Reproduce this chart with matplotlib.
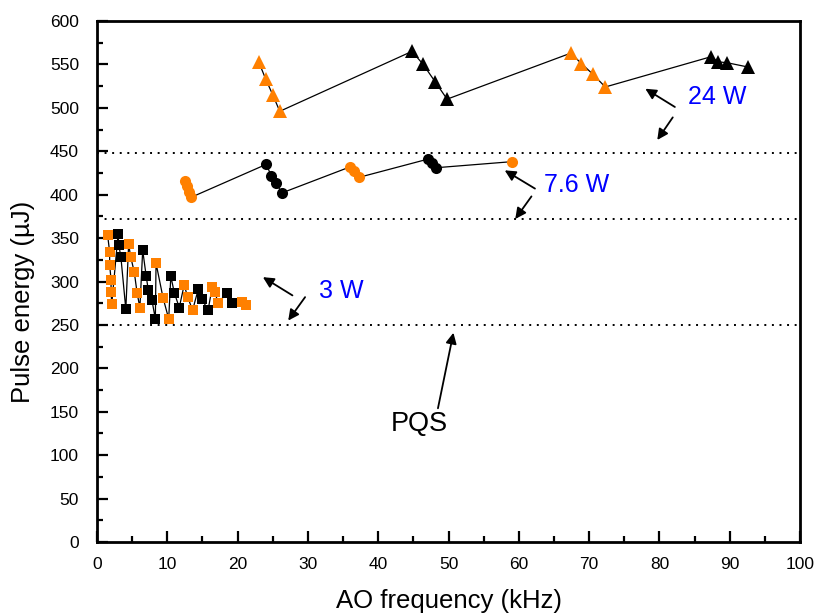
import matplotlib
matplotlib.use("Agg")
import matplotlib.pyplot as plt

FONT = "Liberation Sans"
ORANGE = "#FF8000"

# 3 W pump: alternating orange / black runs of squares
p3_freq = [[1.5, 1.8, 1.8, 2.0, 2.0, 2.1],
           [3.0, 3.1, 3.4, 4.1],
           [4.5, 4.8, 5.3, 5.7, 6.1],
           [6.5, 7.0, 7.3, 7.8, 8.3],
           [8.4, 9.4, 10.2],
           [10.5, 11.0, 11.7],
           [12.4, 12.9, 13.6],
           [14.4, 14.9, 15.8],
           [16.4, 16.8, 17.2],
           [18.5, 19.2],
           [20.6, 21.2]]
p3_energy = [[354, 334, 319, 302, 288, 274],
             [355, 342, 328, 268],
             [343, 328, 311, 287, 270],
             [336, 306, 290, 279, 257],
             [321, 281, 257],
             [306, 287, 270],
             [296, 282, 267],
             [291, 280, 267],
             [294, 288, 275],
             [287, 275],
             [276, 273]]

# 7.6 W pump: circles
p76_freq = [[12.5, 12.8, 13.1, 13.4],
            [24.1, 24.8, 25.5, 26.3],
            [36.0, 36.6, 37.3],
            [47.1, 47.7, 48.2],
            [59.0]]
p76_energy = [[416, 410, 403, 397],
              [435, 421, 413, 402],
              [432, 427, 420],
              [441, 436, 431],
              [438]]

# 24 W pump: triangles
p24_freq = [[23.0, 24.0, 25.0, 26.0],
            [44.8, 46.4, 48.1, 49.8],
            [67.4, 68.9, 70.5, 72.3],
            [87.4, 88.3, 89.6, 92.6]]
p24_energy = [[553, 533, 515, 496],
              [565, 550, 530, 510],
              [563, 551, 539, 524],
              [559, 553, 552, 547]]

# PQS reference levels (dotted lines)
pqs_levels = [448, 372, 250]

# Annotations: label, text position, colour, size, arrows (tail -> head)
notes = [
    ("24 W", (84.0, 512), "blue", 18, [((82.2, 501), (78.0, 522)), ((81.9, 489), (79.7, 463))]),
    ("7.6 W", (63.6, 411), "blue", 18, [((62.3, 407), (58.0, 428)), ((61.8, 398), (59.5, 372))]),
    ("3 W", (31.6, 289), "blue", 18, [((27.8, 284), (23.6, 305)), ((29.6, 282), (27.2, 255))]),
    ("PQS", (41.8, 136), "black", 19.5, [((48.5, 154), (50.7, 241))]),
]

fig = plt.figure(figsize=(8.26, 6.15), dpi=100)
ax = fig.add_axes([97 / 826, 73 / 615, 703 / 826, 521 / 615])


def draw_series(freq, energy, marker, ms, z0):
    xs = [v for g in freq for v in g]
    ys = [v for g in energy for v in g]
    ax.plot(xs, ys, color="black", lw=0.9, zorder=z0)
    for i, (gx, gy) in enumerate(zip(freq, energy)):
        c = ORANGE if i % 2 == 0 else "black"
        ax.plot(gx, gy, ls="none", marker=marker, ms=ms, color=c,
                markeredgewidth=0, zorder=z0 + 1 + i * 0.01)


for lvl in pqs_levels:
    ax.axhline(lvl, color="black", lw=1.4, ls=(0, (1, 2.9)), zorder=1)

draw_series(p3_freq, p3_energy, "s", 7.8, 3)
draw_series(p76_freq, p76_energy, "o", 8.0, 3)
draw_series(p24_freq, p24_energy, "^", 10.5, 3)

for label, pos, col, fs, arrows in notes:
    ax.text(pos[0], pos[1], label, color=col, fontsize=fs, family=FONT,
            ha="left", va="center", zorder=6)
    for tail, head in arrows:
        ax.annotate("", xy=head, xytext=tail,
                    arrowprops=dict(arrowstyle="-|>", color="black", lw=1.3,
                                    mutation_scale=16, shrinkA=0, shrinkB=0),
                    zorder=6)

ax.set_xlim(0, 100)
ax.set_ylim(0, 600)
ax.set_xticks(range(0, 101, 10))
ax.set_xticks(range(5, 100, 10), minor=True)
ax.set_yticks(range(0, 601, 50))
ax.set_yticks(range(25, 600, 50), minor=True)

ax.tick_params(which="both", direction="in", top=False, right=False, width=1.6)
ax.tick_params(which="major", length=8, labelsize=12.5)
ax.tick_params(axis="x", which="major", pad=10.5)
ax.tick_params(axis="y", which="major", pad=13)
ax.tick_params(which="minor", length=4.5)
for lab in ax.get_xticklabels() + ax.get_yticklabels():
    lab.set_family(FONT)

for sp in ax.spines.values():
    sp.set_linewidth(2.0)

ax.set_xlabel("AO frequency (kHz)", fontsize=18.5, family=FONT)
ax.set_ylabel("Pulse energy (\u00b5J)", fontsize=18.5, family=FONT)
ax.xaxis.set_label_coords(0.5, -0.09)
ax.yaxis.set_label_coords(-0.088, 0.46)

fig.savefig("out.png", dpi=100)
